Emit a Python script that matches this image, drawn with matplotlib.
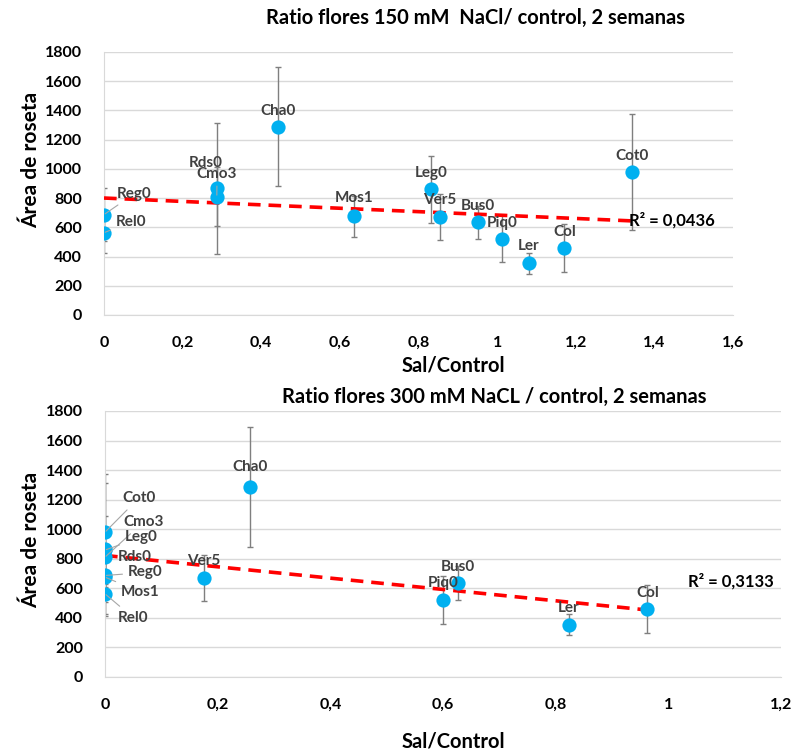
import numpy as np
import matplotlib.pyplot as plt

plt.rcParams['font.family'] = ['Lato', 'DejaVu Sans']

# genotype values (same area for both conditions)
genotypes = ['Reg0', 'Rel0', 'Rds0', 'Cmo3', 'Cha0', 'Mos1', 'Leg0', 'Ver5',
             'Bus0', 'Piq0', 'Ler', 'Col', 'Cot0']
area = [687, 563, 866, 811, 1288, 676, 859, 671, 634, 522, 355, 458, 980]
area_err = [180, 140, 450, 200, 407, 140, 228, 155, 115, 162, 72, 163, 395]

ratio_150 = [0, 0, 0.287, 0.287, 0.443, 0.636, 0.832, 0.855, 0.952, 1.013,
             1.081, 1.171, 1.342]
ratio_300 = [0, 0, 0, 0, 0.257, 0, 0, 0.176, 0.627, 0.600, 0.823, 0.963, 0]

r2_150 = 'R² = 0,0436'
r2_300 = 'R² = 0,3133'

title_150 = 'Ratio flores 150 mM  NaCl/ control, 2 semanas'
title_300 = 'Ratio flores 300 mM NaCL / control, 2 semanas'

# label offsets in pixels (dx, dy, ha, leader)
lab_150 = {
    'Reg0': (13, 21, 'left', True), 'Rel0': (12, 11, 'left', True),
    'Rds0': (-28, 25, 'left', False), 'Cmo3': (-20, 23, 'left', True),
    'Cha0': (0, 16, 'center', False), 'Mos1': (0, 18, 'center', False),
    'Leg0': (0, 16, 'center', False), 'Ver5': (0, 17, 'center', False),
    'Bus0': (0, 16, 'center', False), 'Piq0': (0, 16, 'center', False),
    'Ler': (0, 17, 'center', False), 'Col': (0, 16, 'center', False),
    'Cot0': (0, 16, 'center', False),
}
lab_300 = {
    'Cot0': (17, 34, 'left', True), 'Cmo3': (18, 35, 'left', True),
    'Leg0': (20, 13, 'left', True), 'Rds0': (13, -8, 'left', False),
    'Reg0': (23, 3, 'left', True), 'Mos1': (16, -15, 'left', True),
    'Rel0': (13, -24, 'left', True),
    'Cha0': (0, 20, 'center', False), 'Ver5': (0, 17, 'center', False),
    'Bus0': (0, 16, 'center', False), 'Piq0': (0, 17, 'center', False),
    'Ler': (0, 17, 'center', False), 'Col': (0, 16, 'center', False),
}

W, H = 793, 754
fig = plt.figure(figsize=(W / 100, H / 100), dpi=100)

blue = '#00B0F0'
grid = '#D9D9D9'
lab_col = '#404040'


def fmt(v):
    s = ('%.1f' % v).rstrip('0').rstrip('.')
    return s.replace('.', ',')


def draw(ax, x, xmax, labels, r2, r2_xy):
    x = np.array(x)
    y = np.array(area)
    ax.errorbar(x, y, yerr=area_err, fmt='none', ecolor='#7F7F7F',
                elinewidth=1, capsize=2.5, capthick=1, zorder=2)
    k, b = np.polyfit(x, y, 1)
    xs = np.array([0, x.max()])
    ax.plot(xs, k * xs + b, color='#FF0000', lw=2.6, ls=(0, (3.5, 2.2)),
            zorder=3)
    ax.scatter(x, y, s=105, color=blue, zorder=4, linewidths=0)
    for i, g in enumerate(genotypes):
        dx, dy, ha, lead = labels[g]
        ap = None
        if lead:
            ap = dict(arrowstyle='-', color='#A6A6A6', lw=0.8,
                      shrinkA=2, shrinkB=1)
        ax.annotate(g, (x[i], y[i]), xytext=(dx, dy),
                    textcoords='offset pixels', ha=ha, va='center',
                    fontsize=11, fontweight='bold', color=lab_col,
                    arrowprops=ap, zorder=5)
    ax.text(r2_xy[0], r2_xy[1], r2, fontsize=12, fontweight='bold',
            color='black', ha='left', va='center', zorder=6)

    ax.set_xlim(0, xmax)
    ax.set_ylim(0, 1800)
    ticks = np.arange(0, xmax + 0.01, 0.2)
    ax.set_xticks(ticks)
    ax.set_xticklabels([fmt(t) for t in ticks])
    ax.set_yticks(range(0, 1801, 200))
    ax.grid(axis='y', color=grid, lw=1)
    ax.set_axisbelow(True)
    for s in ['top', 'right']:
        ax.spines[s].set_visible(False)
    for s in ['left', 'bottom']:
        ax.spines[s].set_color(grid)
    ax.tick_params(length=0, labelsize=11.5, colors='black')
    ax.tick_params(axis='x', pad=15)
    ax.tick_params(axis='y', pad=16)
    for t in ax.get_xticklabels() + ax.get_yticklabels():
        t.set_fontweight('bold')


ax1 = fig.add_axes([104 / W, 1 - 315 / H, 629 / W, 263 / H])
draw(ax1, ratio_150, 1.6, lab_150, r2_150, (1.335, 650))

ax2 = fig.add_axes([105 / W, 1 - 677 / H, 676 / W, 266 / H])
draw(ax2, ratio_300, 1.2, lab_300, r2_300, (1.035, 650))

fig.text(475 / W, 1 - 18 / H, title_150, ha='center', va='center',
         fontsize=14.5, fontweight='bold')
fig.text(494 / W, 1 - 397 / H, title_300, ha='center', va='center',
         fontsize=14.5, fontweight='bold')
fig.text(31 / W, 1 - 160 / H, 'Área de roseta', rotation=90, ha='center',
         va='center', fontsize=15, fontweight='bold')
fig.text(31 / W, 1 - 540 / H, 'Área de roseta', rotation=90, ha='center',
         va='center', fontsize=15, fontweight='bold')
fig.text(453 / W, 1 - 366 / H, 'Sal/Control', ha='center', va='center',
         fontsize=14.5, fontweight='bold')
fig.text(453 / W, 1 - 741 / H, 'Sal/Control', ha='center', va='center',
         fontsize=14.5, fontweight='bold')

fig.savefig('out.png', dpi=100)
